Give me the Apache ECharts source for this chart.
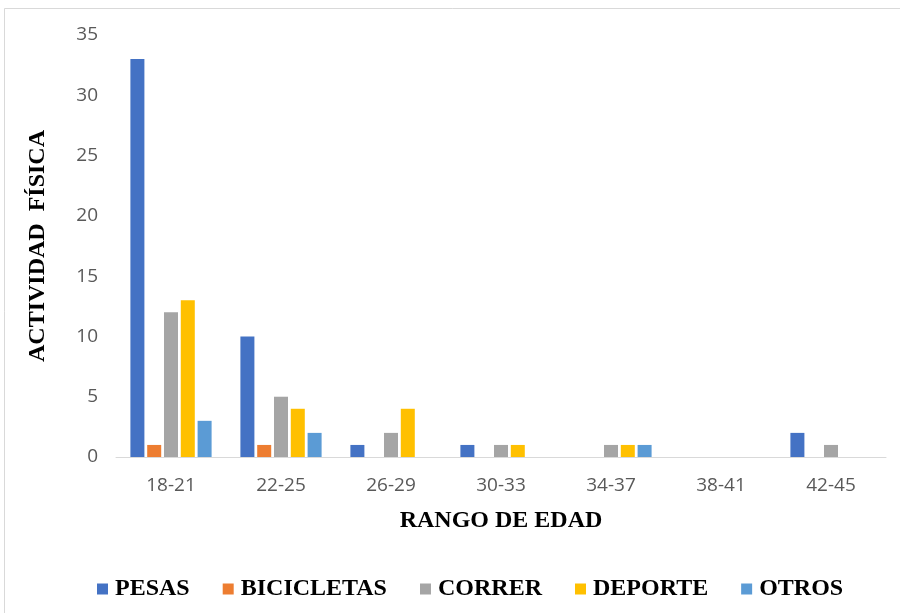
<!DOCTYPE html>
<html>
<head>
<meta charset="utf-8">
<script src="https://cdn.jsdelivr.net/npm/echarts@6/dist/echarts.min.js"></script>
<style>
  html, body { margin: 0; padding: 0; background: #fff; }
  #chart { width: 900px; height: 613px; }
</style>
</head>
<body>
<div id="chart"></div>
<script>
// Age ranges and activity counts per range
const categories = ['18-21', '22-25', '26-29', '30-33', '34-37', '38-41', '42-45'];
const pesas      = [33, 10, 1, 1, 0, 0, 2];
const bicicletas = [1, 1, 0, 0, 0, 0, 0];
const correr     = [12, 5, 2, 1, 1, 0, 1];
const deporte    = [13, 4, 4, 1, 1, 0, 0];
const otros      = [3, 2, 0, 0, 1, 0, 0];
const yTicks = [0, 5, 10, 15, 20, 25, 30, 35];

const seriesDefs = [
  { name: 'PESAS', data: pesas, color: '#4472C4' },
  { name: 'BICICLETAS', data: bicicletas, color: '#ED7D31' },
  { name: 'CORRER', data: correr, color: '#A5A5A5' },
  { name: 'DEPORTE', data: deporte, color: '#FFC000' },
  { name: 'OTROS', data: otros, color: '#5B9BD5' }
];

const chart = echarts.init(document.getElementById('chart'), null, { renderer: 'canvas' });
const serif = '"Liberation Serif", "Times New Roman", serif';
const sans = '"Open Sans", "Liberation Sans", sans-serif';

chart.setOption({
  animation: false,
  backgroundColor: '#fff',
  graphic: [{
    type: 'rect',
    shape: { x: 4.5, y: 8.5, width: 910, height: 620 },
    style: { fill: 'none', stroke: '#d9d9d9', lineWidth: 1 },
    silent: true
  }],
  grid: { left: 116, right: 14, top: 35, bottom: 156, containLabel: false },
  legend: {
    top: 572,
    left: 92,
    itemWidth: 11,
    itemHeight: 11,
    itemGap: 33,
    icon: 'rect',
    textStyle: { fontFamily: serif, fontWeight: 'bold', fontSize: 24, color: '#000', padding: [0, 0, 0, 2] },
    data: seriesDefs.map(s => s.name)
  },
  xAxis: {
    type: 'category',
    data: categories,
    name: 'RANGO DE EDAD',
    nameLocation: 'middle',
    nameGap: 52,
    nameTextStyle: { fontFamily: serif, fontWeight: 'bold', fontSize: 24, color: '#000' },
    axisLine: { lineStyle: { color: '#d9d9d9', width: 1 } },
    axisTick: { show: false },
    axisLabel: { fontFamily: sans, fontSize: 19, color: '#595959', margin: 19 }
  },
  yAxis: {
    type: 'value',
    min: yTicks[0],
    max: yTicks[yTicks.length - 1],
    interval: 5,
    name: 'ACTIVIDAD  FÍSICA',
    nameLocation: 'middle',
    nameRotate: 90,
    nameGap: 66,
    nameTextStyle: { fontFamily: serif, fontWeight: 'bold', fontSize: 24, color: '#000' },
    axisLine: { show: false },
    axisTick: { show: false },
    splitLine: { show: false },
    axisLabel: { fontFamily: sans, fontSize: 19, color: '#595959', margin: 18 }
  },
  series: seriesDefs.map(s => ({
    name: s.name,
    type: 'bar',
    data: s.data,
    barWidth: 14,
    barGap: '20%',
    itemStyle: { color: s.color }
  }))
});
</script>
</body>
</html>
